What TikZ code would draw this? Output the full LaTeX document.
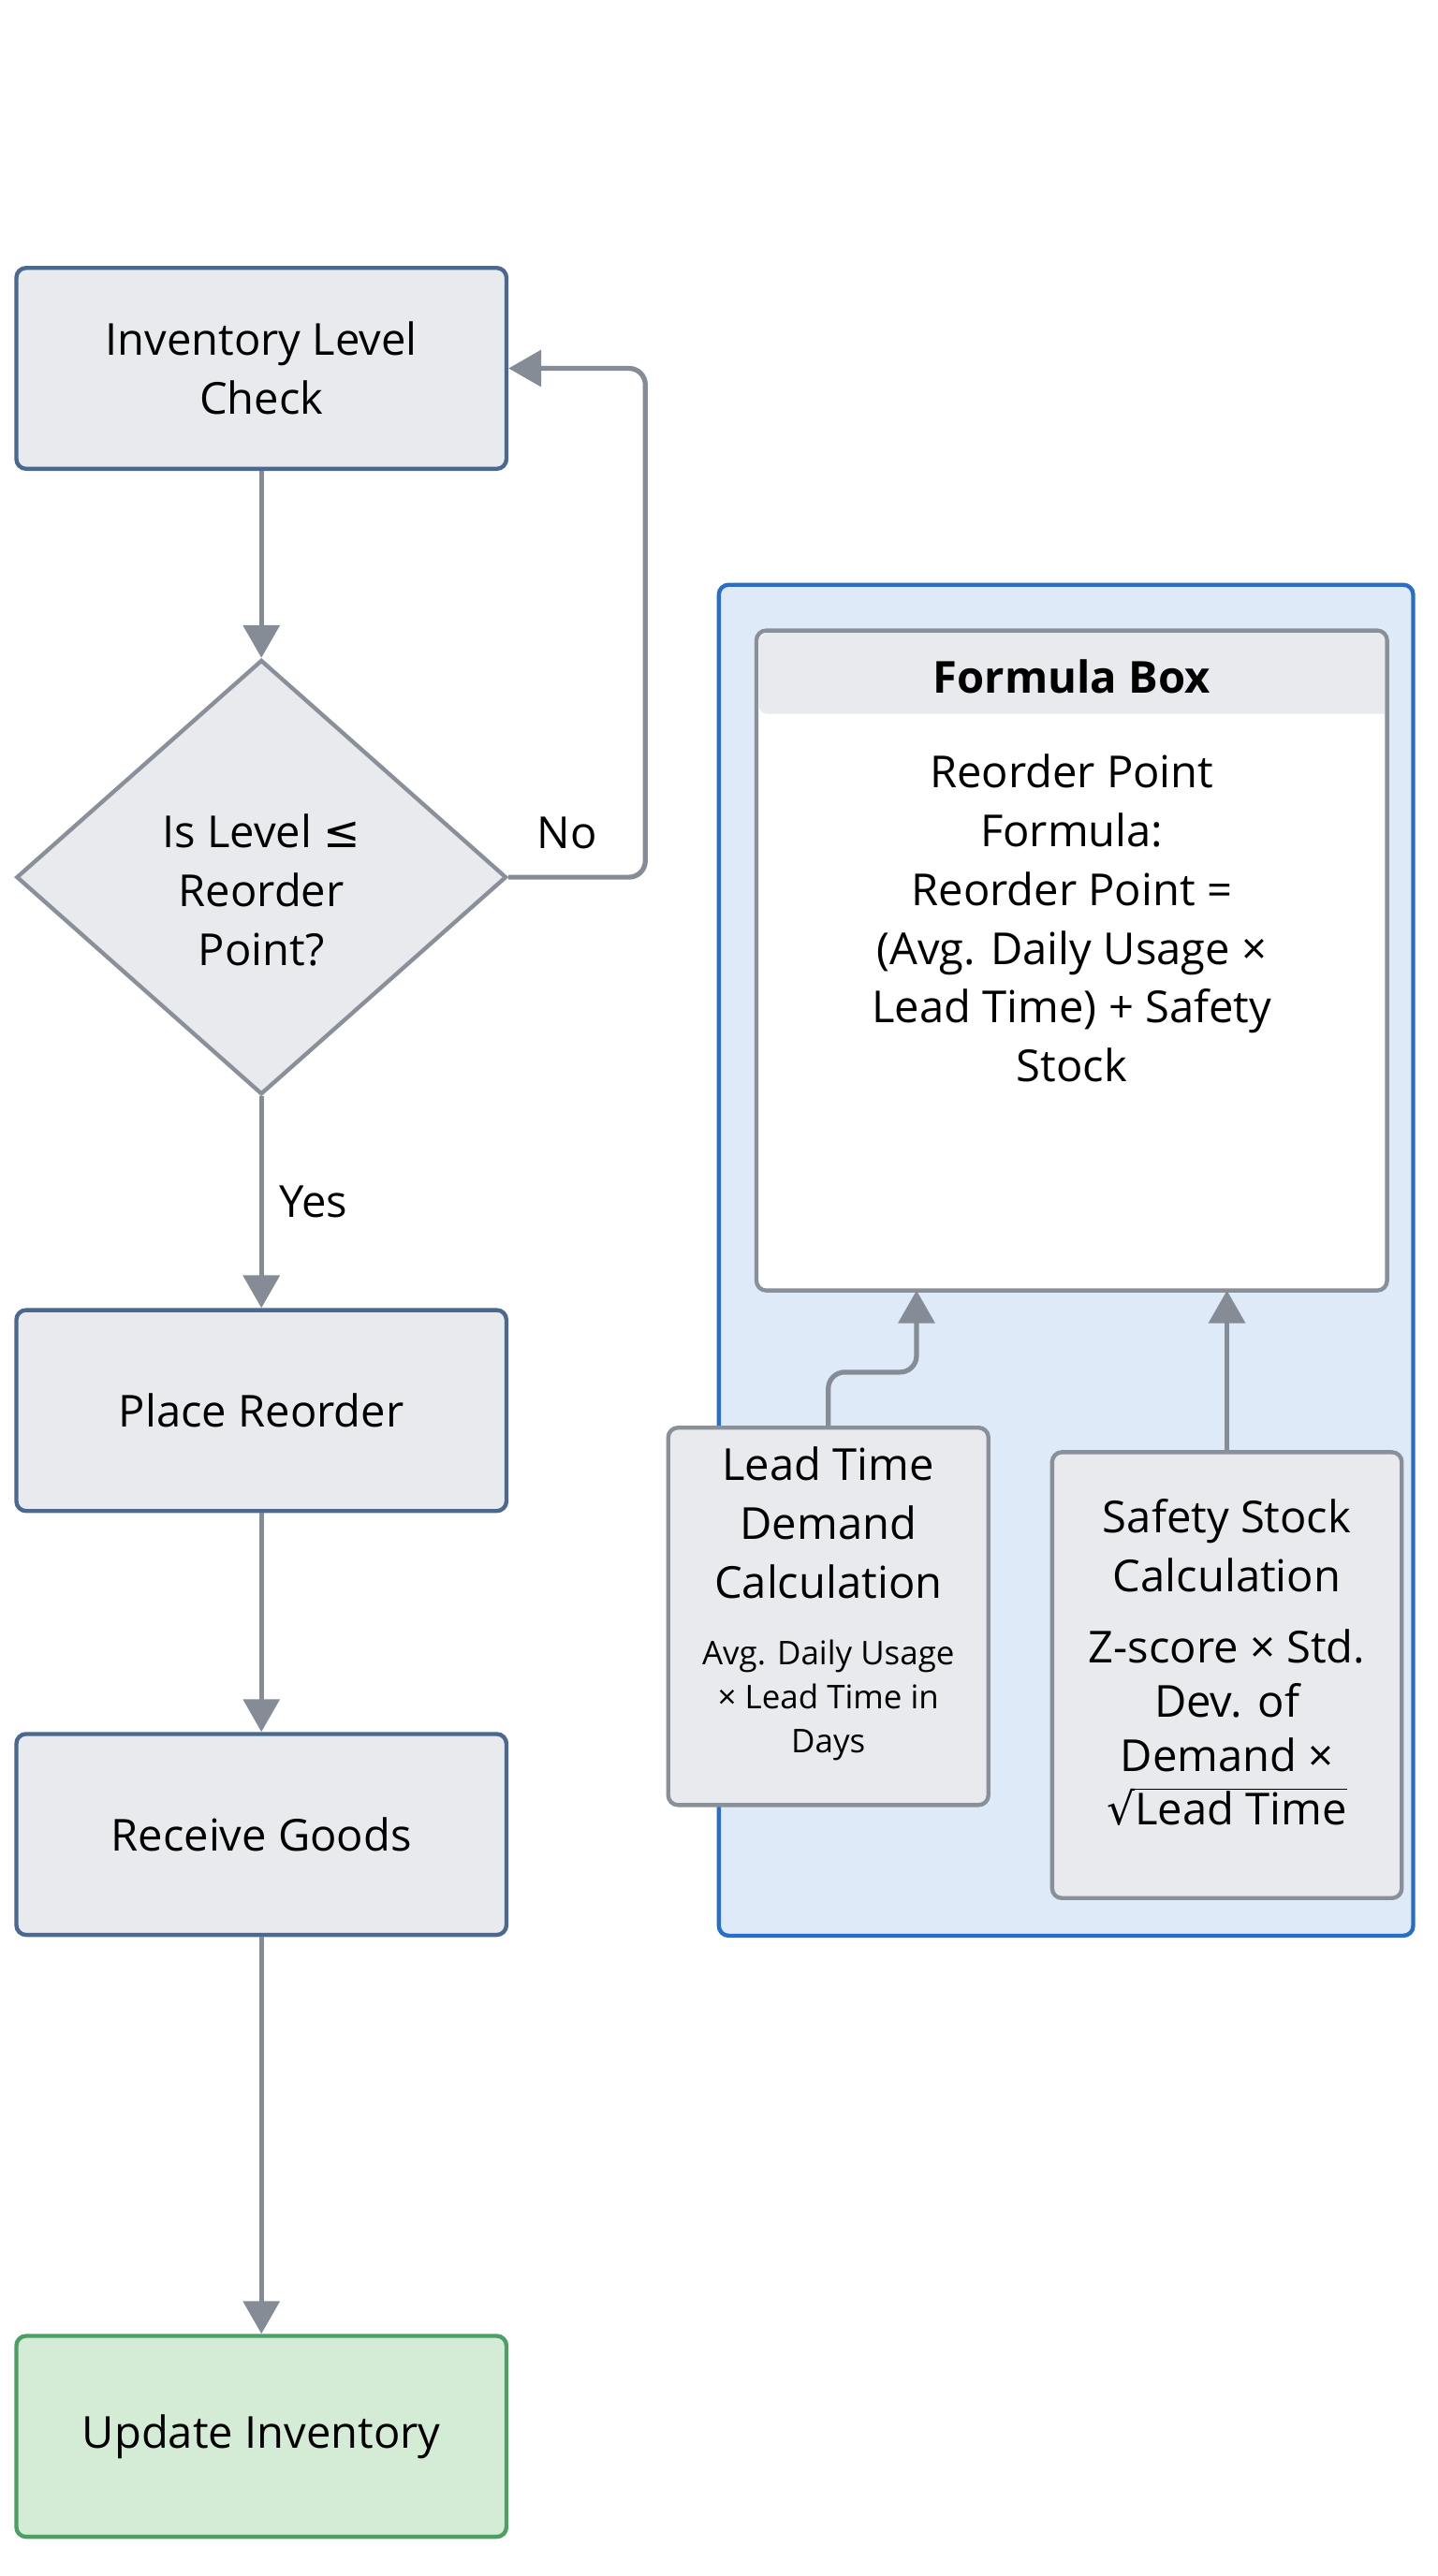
\documentclass[tikz,border=0pt]{standalone}
\usepackage{fontspec}
\setmainfont{Open Sans}
\newfontfamily\symfont{DejaVu Sans}
\usetikzlibrary{positioning,shapes.geometric,arrows.meta}
\definecolor{boxfill}{RGB}{232,234,238}
\definecolor{boxline}{RGB}{74,104,144}
\definecolor{arrowgray}{RGB}{133,140,150}
\definecolor{panelfill}{RGB}{222,234,247}
\definecolor{panelline}{RGB}{40,110,200}
\definecolor{innerline}{RGB}{138,144,153}
\definecolor{greenfill}{RGB}{212,236,214}
\definecolor{greenline}{RGB}{76,160,100}
\tikzset{every picture/.style={line width=0.75pt}}
\tikzset{
  flowbox/.style={draw=boxline,fill=boxfill,line width=2.5pt,rounded corners=6pt,minimum width=300pt,minimum height=123pt,align=center,font=\fontsize{27}{36}\selectfont},
  calcbox/.style={draw=innerline,fill=boxfill,line width=2.5pt,rounded corners=6pt,align=center},
  flowarrow/.style={draw=arrowgray,line width=3pt,-{Triangle[length=20pt,width=22pt]}},
  lbl/.style={font=\fontsize{27}{36}\selectfont}
}
\begin{document}
\begin{tikzpicture}[x=1pt,y=-1pt]
\useasboundingbox[fill=white] (0,0) rectangle (880,1577);

%Panel
\draw [draw=panelline,fill=panelfill,line width=2.5pt,rounded corners=6pt] (440,358) rectangle (865,1185);
%Formula box
\draw [draw=innerline,fill=white,line width=2.5pt,rounded corners=6pt] (463,386) rectangle (849,790);
\fill [boxfill] (464.5,387.5) [rounded corners=5pt] -- (464.5,437) [sharp corners] -- (847.5,437) [rounded corners=5pt] -- (847.5,387.5) -- cycle;
\node (fbhead) at (656,414) {\fontsize{27}{30}\selectfont\bfseries Formula Box};
\node (fbtext) [anchor=north,align=center,font=\fontsize{27}{36}\selectfont] at (656,458) {Reorder Point\\Formula:\\Reorder Point =\\(Avg. Daily Usage ×\\Lead Time) + Safety\\Stock};
\coordinate (fbleft) at (561,790);
\coordinate (fbright) at (751,790);

%Calculation boxes
\node (lead) [calcbox,minimum width=196pt,minimum height=231pt] at (507,989.5) {};
\node (leadtxt) [anchor=north,align=center,font=\fontsize{27}{36}\selectfont] at (507,882) {Lead Time\\Demand\\Calculation};
\node (leadsub) [anchor=north,align=center,font=\fontsize{20}{27}\selectfont] at (507,1000) {Avg. Daily Usage\\× Lead Time in\\Days};
\node (safety) [calcbox,minimum width=214pt,minimum height=273pt] at (751,1025.5) {};
\node (safetytxt) [anchor=north,align=center,font=\fontsize{27}{36}\selectfont] at (751,914) {Safety Stock\\Calculation};
\node (safetysub) [anchor=north,align=center,font=\fontsize{27}{33}\selectfont] at (751,994) {Z-score × Std.\\Dev. of\\Demand ×\\{\symfont √}$\overline{\mbox{Lead Time}}$};

\draw [flowarrow,rounded corners=10pt] (lead.north) -- (507,840) -- (561,840) -- (fbleft);
\draw [flowarrow] (safety.north) -- (fbright);

%Flow
\node (check) [flowbox] at (160,225.5) {Inventory Level\\Check};
\node (decide) [diamond,draw=innerline,fill=boxfill,line width=2.5pt,minimum width=300pt,minimum height=266pt,inner sep=0pt,align=center] at (160,537) {};
\node (decidetxt) [align=center,font=\fontsize{27}{36}\selectfont] at (160,545) {Is Level {\symfont ≤}\\Reorder\\Point?};
\node (reorder) [flowbox] at (160,863.5) {Place Reorder};
\node (receive) [flowbox] at (160,1123) {Receive Goods};
\node (update) [flowbox,draw=greenline,fill=greenfill] at (160,1491.5) {Update Inventory};

\draw [flowarrow] (check) -- (decide.north);
\draw [flowarrow] (decide.south) -- (reorder) node [lbl,midway,right=6pt] {Yes};
\draw [flowarrow] (reorder) -- (receive);
\draw [flowarrow] (receive) -- (update);
\draw [flowarrow,rounded corners=10pt] (decide.east) -- (395,537) -- (395,225.5) -- (check.east);
\node (nolbl) [lbl] at (347,510) {No};
\end{tikzpicture}
\end{document}
